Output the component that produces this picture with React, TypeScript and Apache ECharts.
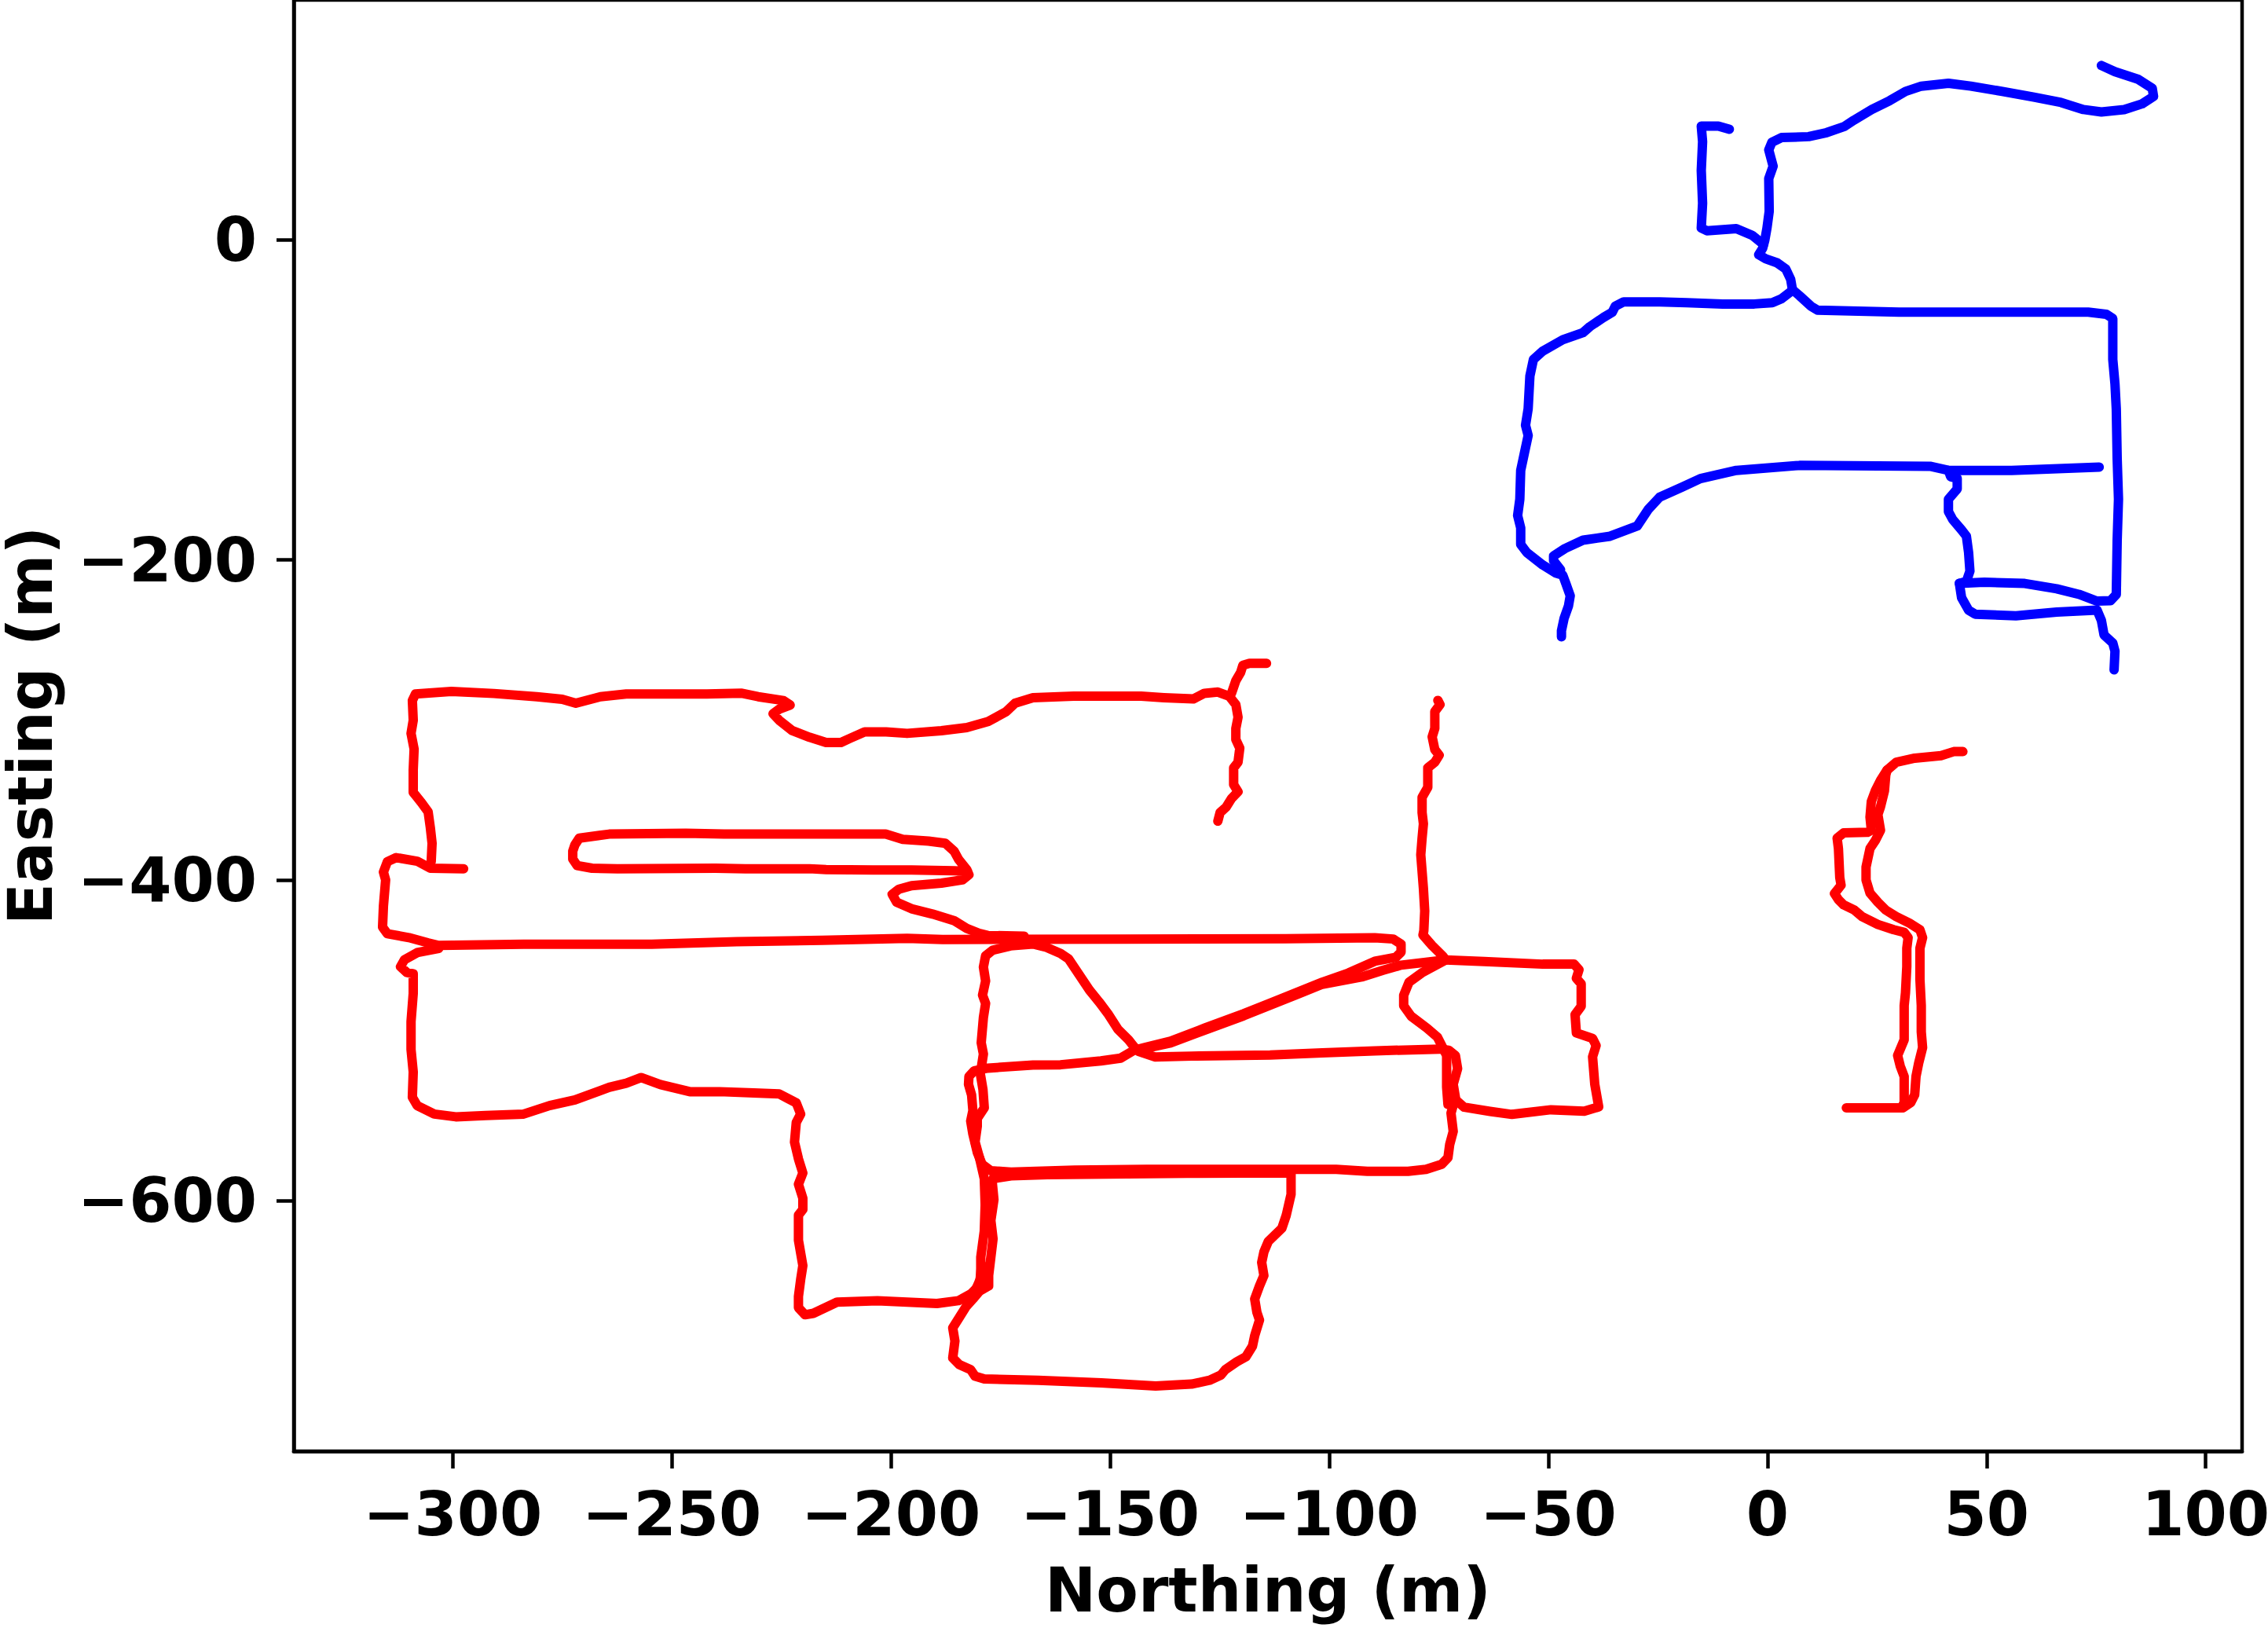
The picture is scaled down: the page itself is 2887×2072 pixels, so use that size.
import React, { useEffect, useRef } from "react";
import * as echarts from "echarts";

const xTickValues = [-300, -250, -200, -150, -100, -50, 0, 50, 100];
const yTickValues = [-600, -400, -200, 0];
const xAxisTitle = "Northing (m)";
const yAxisTitle = "Easting (m)";

// ---- Blue trajectory (Northing, Easting) ----
const blueNorthHook = [[76.2,108.7],[79.3,104.8],[84.5,100.2],[87.8,94.5],[88.1,89.4],[85.5,84.8],[81.4,81.2],[76.2,79.7],[72.1,81.2],[67.0,85.6],[60.8,88.9],[53.6,92.5],[46.4,95.8],[41.3,97.6],[35.1,95.8],[31.5,92.5],[27.9,86.8],[23.8,81.2],[19.7,74.5],[17.6,70.7],[13.5,66.8],[9.4,64.3],[3.2,63.7],[1.0,60.7],[0.3,56.0],[1.3,45.8],[0.3,38.1],[0.4,17.6],[-0.1,7.3],[-0.6,-0.4],[-1.1,-5.5],[-2.0,-9.4],[-0.4,-12.0],[2.2,-14.5],[4.2,-18.4],[5.3,-24.8],[5.7,-31.2]];
const blueSpur = [[-8.7,68.9],[-11.2,70.9],[-15.1,70.9],[-14.8,61.2],[-15.1,43.2],[-14.8,22.7],[-15.1,7.3],[-13.8,5.5],[-7.1,6.8],[-3.5,2.7],[-0.9,-3.0]];
const blueWest = [[5.3,-32.5],[3.2,-36.9],[1.1,-39.4],[-3.0,-40.2],[-10.2,-40.2],[-18.4,-39.4],[-24.6,-38.9],[-32.8,-38.9],[-34.7,-41.5],[-35.4,-45.3],[-37.4,-48.6],[-40.5,-54.3],[-42.1,-58.1],[-46.7,-62.5],[-51.3,-69.7],[-53.4,-74.8],[-54.2,-85.1],[-54.6,-105.6],[-55.2,-115.9],[-54.6,-122.3],[-55.5,-133.8],[-56.3,-144.1],[-56.5,-162.1],[-57.0,-172.3],[-56.3,-180.0],[-56.3,-190.3],[-54.9,-195.4],[-51.3,-203.1],[-48.2,-208.3],[-46.7,-209.5],[-46.0,-214.7],[-45.0,-222.4],[-45.4,-228.8],[-46.4,-236.5],[-47.0,-244.2],[-47.0,-248.0]];
const blueMiddle = [[-47.2,-206.2],[-48.8,-200.5],[-48.8,-197.5],[-46.2,-192.9],[-42.1,-187.7],[-35.9,-185.2],[-29.7,-178.8],[-27.2,-168.5],[-24.6,-160.8],[-19.4,-154.4],[-15.3,-149.2],[-7.1,-144.1],[7.3,-141.0],[37.1,-141.5],[41.3,-144.1],[55.7,-144.1],[75.7,-142.0]];
const blueSouth = [[41.3,-144.1],[41.8,-148.0],[43.3,-149.2],[43.3,-155.7],[41.3,-162.1],[41.3,-169.8],[42.3,-174.9],[44.3,-181.3],[45.4,-185.2],[45.9,-195.4],[46.2,-207.0],[45.4,-213.4],[43.8,-214.7],[44.3,-223.6],[45.9,-231.4],[47.4,-233.9],[56.7,-234.9],[66.0,-232.6],[75.2,-231.3],[76.2,-237.8],[76.8,-246.8],[78.8,-251.9],[79.3,-257.0],[79.1,-268.6]];
const blueEastLoop = [[43.8,-214.7],[49.5,-213.9],[58.7,-214.7],[66.0,-218.0],[71.1,-221.5],[75.2,-225.7],[78.3,-225.4],[79.6,-221.6],[79.8,-187.7],[80.1,-162.1],[79.8,-136.7],[79.6,-105.9],[79.3,-90.2],[78.8,-74.8],[78.8,-49.2],[77.3,-46.6],[73.2,-45.3],[54.6,-45.3],[30.0,-45.3],[11.4,-44.0],[9.9,-41.5],[7.3,-35.0],[5.7,-31.2]];

// ---- Red trajectory (Northing, Easting) ----
const redNorthLoop = [[-304.9,-388.4],[-304.7,-376.9],[-305.1,-367.1],[-305.6,-357.3],[-307.1,-351.6],[-309.0,-345.1],[-309.0,-331.2],[-308.8,-318.1],[-309.5,-308.3],[-309.0,-300.1],[-309.2,-287.8],[-308.5,-283.7],[-300.3,-282.1],[-290.6,-283.4],[-280.8,-285.4],[-275.0,-287.0],[-271.9,-289.5],[-266.3,-285.4],[-260.4,-283.7],[-242.0,-283.7],[-234.2,-283.2],[-230.3,-285.4],[-224.5,-287.8],[-223.0,-290.6],[-225.5,-293.2],[-226.9,-296.0],[-225.5,-300.1],[-222.5,-306.6],[-218.6,-310.7],[-214.8,-314.0],[-211.4,-314.0],[-209.4,-311.5],[-206.0,-307.4],[-201.1,-307.4],[-196.3,-308.3],[-188.5,-306.6],[-182.7,-304.7],[-177.8,-300.9],[-173.7,-294.7],[-171.7,-289.5],[-167.6,-286.0],[-158.3,-285.1],[-142.9,-285.1],[-137.7,-286.0],[-131.0,-286.8],[-128.5,-283.3],[-125.4,-282.5],[-122.8,-285.1],[-121.3,-290.3],[-120.8,-298.2],[-121.3,-305.2],[-121.3,-312.2],[-120.4,-317.5],[-120.8,-326.3],[-121.8,-329.8],[-121.8,-340.3],[-120.8,-344.7],[-122.3,-349.0],[-123.5,-354.3],[-124.9,-357.8],[-125.4,-363.1]];
const redSpur = [[-122.3,-283.3],[-121.3,-275.4],[-120.2,-270.2],[-119.7,-265.8],[-118.2,-264.6],[-114.3,-264.6]];
const redInnerLoop = [[-182.5,-394.5],[-185.6,-394.1],[-195.3,-393.6],[-204.1,-393.6],[-214.8,-393.3],[-218.6,-392.8],[-233.2,-392.8],[-240.0,-392.5],[-262.4,-392.8],[-268.2,-392.5],[-271.6,-390.8],[-272.6,-386.8],[-272.6,-381.8],[-272.1,-377.8],[-271.1,-373.7],[-264.3,-371.2],[-246.8,-370.7],[-238.1,-371.2],[-201.2,-371.2],[-197.3,-374.5],[-191.4,-375.6],[-187.6,-376.9],[-185.6,-381.8],[-184.6,-386.8],[-182.7,-393.3],[-182.2,-396.6],[-183.7,-399.8],[-188.5,-401.8],[-195.3,-403.4],[-198.2,-405.6],[-199.7,-408.8],[-198.7,-413.7],[-195.3,-417.8],[-190.5,-421.1],[-185.6,-425.2],[-182.7,-430.1],[-179.9,-433.1],[-177.9,-434.5],[-169.6,-434.9]];
const redMainRoute = [[-297.5,-392.8],[-305.1,-392.5],[-308.1,-388.1],[-312.9,-385.9],[-314.9,-388.4],[-315.8,-394.9],[-315.3,-399.8],[-315.8,-416.2],[-316.0,-429.3],[-314.9,-433.4],[-310.0,-435.8],[-305.6,-439.1],[-303.2,-440.7],[-283.8,-439.9],[-254.6,-439.9],[-235.2,-438.3],[-215.7,-437.5],[-196.3,-436.3],[-188.2,-437.0],[-147.0,-436.8],[-110.0,-436.5],[-89.6,-435.9],[-85.4,-436.7],[-83.6,-439.9],[-83.6,-444.9],[-84.8,-448.1],[-89.6,-450.6],[-95.6,-457.9],[-101.6,-463.7],[-110.5,-473.5],[-119.5,-483.3],[-128.4,-492.3],[-136.2,-500.5],[-142.2,-504.5],[-144.6,-506.2],[-147.6,-511.1],[-152.1,-512.8],[-161.3,-515.2],[-167.6,-515.4],[-177.9,-517.3],[-181.0,-519.0],[-182.2,-522.5],[-182.3,-527.4],[-181.6,-534.0],[-181.3,-543.8],[-181.8,-550.3],[-181.3,-558.5],[-180.3,-569.9],[-179.2,-577.3],[-177.2,-581.4],[-172.6,-582.2],[-158.1,-581.0],[-141.7,-580.5],[-121.1,-580.5],[-107.7,-580.5],[-98.4,-580.5],[-91.3,-581.7],[-82.0,-581.7],[-77.9,-580.5],[-74.3,-577.3],[-72.9,-573.2],[-72.5,-565.0],[-71.7,-556.8],[-72.2,-545.4],[-71.2,-535.6],[-71.7,-527.4],[-70.7,-517.6],[-71.2,-509.4],[-72.7,-506.1],[-74.7,-505.4]];
const redRectTop = [[-74.7,-505.4],[-89.6,-506.5],[-101.6,-507.8],[-113.5,-509.1],[-131.4,-509.8],[-139.8,-510.3],[-143.4,-507.0],[-144.6,-503.7],[-145.8,-499.6],[-148.2,-493.1],[-150.5,-483.3],[-152.3,-476.7],[-154.7,-468.6],[-157.1,-458.8],[-159.5,-449.0],[-161.3,-445.7],[-164.5,-441.9],[-167.6,-439.8],[-172.7,-441.0],[-176.8,-443.7],[-178.4,-447.2],[-178.9,-454.2],[-178.4,-462.9],[-179.1,-471.7],[-178.4,-476.9],[-178.9,-485.7],[-179.4,-501.5],[-178.9,-508.5],[-179.4,-517.3],[-179.6,-520.9],[-179.0,-530.7],[-178.7,-542.1],[-180.3,-548.7],[-180.3,-553.6],[-180.8,-563.4],[-179.8,-573.2],[-178.7,-586.3],[-178.5,-602.6],[-178.7,-619.0],[-179.5,-635.3],[-179.5,-648.4],[-180.8,-656.6]];
const redEastVertical = [[-75.2,-287.7],[-74.7,-290.3],[-75.9,-294.7],[-75.9,-305.2],[-76.5,-310.5],[-75.9,-318.4],[-74.9,-321.9],[-75.9,-326.3],[-77.5,-329.8],[-77.5,-342.0],[-78.8,-348.2],[-78.8,-357.8],[-78.5,-364.8],[-78.8,-373.6],[-79.1,-384.1],[-78.5,-405.1],[-78.2,-419.1],[-78.4,-431.4],[-78.6,-434.2],[-76.5,-440.8],[-74.1,-447.3],[-73.4,-449.8],[-78.9,-457.9],[-81.8,-463.7],[-83.0,-471.8],[-83.0,-478.4],[-81.3,-484.9],[-77.7,-492.3],[-75.3,-498.0],[-74.1,-504.5],[-73.2,-509.4],[-73.2,-529.1],[-72.9,-540.0]];
const redEastRect = [[-73.4,-449.8],[-64.6,-450.7],[-51.3,-452.4],[-44.1,-452.4],[-43.0,-455.9],[-43.6,-461.2],[-42.5,-464.7],[-42.5,-478.7],[-43.9,-483.9],[-43.6,-495.3],[-39.9,-498.8],[-39.1,-503.2],[-39.9,-510.2],[-39.4,-527.4],[-38.5,-541.5],[-41.8,-544.2],[-49.4,-543.3],[-58.3,-546.2],[-63.3,-544.3],[-69.2,-541.7],[-71.5,-536.2]];
const redDiagonal = [[-73.4,-449.8],[-83.6,-453.0],[-87.8,-456.3],[-92.6,-460.4],[-101.6,-465.0],[-110.5,-474.8],[-119.5,-484.6],[-128.4,-493.6],[-136.2,-501.6],[-142.2,-505.2]];
const redLowerLeft = [[-303.2,-442.6],[-308.1,-445.2],[-311.0,-449.6],[-311.9,-454.0],[-310.5,-457.5],[-309.0,-458.4],[-309.0,-470.6],[-309.5,-488.2],[-309.5,-505.7],[-309.0,-519.7],[-309.2,-535.5],[-308.1,-540.7],[-304.2,-546.0],[-299.3,-547.7],[-292.5,-546.9],[-283.8,-546.0],[-277.9,-540.7],[-272.1,-537.2],[-264.3,-529.3],[-260.4,-526.7],[-257.0,-523.2],[-252.6,-527.6],[-245.9,-532.0],[-239.1,-532.0],[-231.3,-532.8],[-225.5,-533.4],[-223.5,-536.3],[-221.6,-539.0],[-220.6,-546.0],[-221.6,-551.2],[-222.0,-563.5],[-221.1,-574.0],[-220.1,-582.8],[-221.1,-589.8],[-220.1,-598.5],[-220.1,-605.6],[-221.1,-609.1],[-221.1,-624.8],[-220.1,-640.6],[-220.6,-649.4],[-221.1,-659.9],[-221.1,-666.9],[-219.6,-671.3],[-217.7,-670.4],[-212.3,-663.4],[-203.1,-662.5],[-196.3,-663.4],[-189.5,-664.3],[-184.6,-662.5],[-181.7,-658.1],[-179.8,-652.9],[-179.3,-640.0]];
const redStemLoop = [[-176.7,-586.3],[-172.6,-584.6],[-164.3,-583.8],[-132.4,-583.0],[-109.8,-582.7],[-108.7,-583.0],[-108.7,-596.1],[-109.8,-609.2],[-110.8,-617.3],[-113.9,-625.5],[-114.9,-632.1],[-115.4,-638.6],[-114.9,-646.8],[-115.9,-653.3],[-117.0,-661.5],[-116.5,-669.7],[-115.9,-674.6],[-117.0,-684.4],[-117.5,-690.9],[-119.0,-697.5],[-121.1,-700.7],[-123.7,-705.6],[-124.7,-708.9],[-127.3,-712.2],[-131.4,-714.6],[-139.6,-715.8],[-152.0,-713.8],[-166.4,-712.2],[-178.7,-711.4],[-180.8,-709.7],[-181.8,-705.6],[-184.4,-702.4],[-185.9,-698.3],[-185.4,-687.7],[-185.9,-679.5],[-184.4,-673.0],[-182.9,-666.4],[-181.3,-661.5],[-179.8,-656.6],[-177.7,-653.3],[-177.7,-646.8],[-177.2,-635.3],[-176.7,-623.9],[-177.2,-612.4],[-176.5,-599.4],[-176.9,-587.9],[-176.7,-586.3]];
const redEastOuter = [[44.6,-319.7],[42.5,-319.7],[39.6,-322.2],[33.6,-323.8],[29.4,-326.3],[27.3,-331.2],[25.8,-337.7],[24.6,-344.2],[23.7,-350.8],[23.4,-360.6],[23.7,-368.8],[22.8,-370.1],[17.4,-370.4],[15.9,-373.7],[16.2,-380.2],[16.5,-398.2],[16.8,-403.1],[15.3,-408.3],[16.2,-412.1],[17.4,-415.4],[19.8,-418.6],[21.6,-422.7],[25.2,-427.6],[28.8,-430.9],[31.2,-432.5],[32.1,-435.8],[31.8,-442.4],[31.8,-453.8],[31.5,-470.2],[31.2,-478.3],[31.2,-499.6],[29.7,-509.4],[30.3,-516.0],[31.2,-522.5],[31.2,-538.8],[30.6,-542.1],[23.4,-542.1],[18.0,-542.1]];
const redEastInner = [[27.3,-331.2],[27.0,-334.4],[26.7,-344.2],[25.8,-354.1],[25.2,-359.0],[25.8,-368.8],[24.6,-375.3],[23.4,-380.2],[22.5,-391.7],[22.5,-399.8],[23.4,-408.0],[25.2,-413.7],[27.0,-418.6],[29.4,-422.7],[32.4,-426.8],[34.8,-430.9],[35.4,-435.8],[34.8,-442.4],[34.8,-462.0],[35.1,-478.3],[35.1,-494.7],[35.4,-504.5],[34.5,-514.3],[33.9,-522.5],[33.6,-533.9],[32.7,-538.8],[30.9,-542.1]];

const blueTracks = [blueNorthHook, blueSpur, blueWest, blueMiddle, blueSouth, blueEastLoop];
const redTracks = [redNorthLoop, redSpur, redInnerLoop, redMainRoute, redRectTop, redEastVertical, redEastRect, redDiagonal, redLowerLeft, redStemLoop, redEastOuter, redEastInner];

const FONT = "DejaVu Sans";

export default function App() {
  const ref = useRef<HTMLDivElement>(null);
  useEffect(() => {
    const chart = echarts.init(ref.current as HTMLDivElement, null, { renderer: "svg" });
    const fmt = (v: number) => (v < 0 ? "\u2212" + Math.abs(v) : String(v));
    const mk = (data: number[][], color: string) => ({
      type: "line",
      data,
      symbol: "none",
      showSymbol: false,
      silent: true,
      clip: true,
      lineStyle: { color, width: 12, cap: "round", join: "round" },
    });
    const labelStyle = { fontSize: 78, fontWeight: "bold", fontFamily: FONT, color: "#000" };
    chart.setOption({
      animation: false,
      backgroundColor: "#ffffff",
      grid: {
        left: 374, right: 33, top: 0, bottom: 225,
        containLabel: false, outerBoundsMode: "none",
        show: true, borderColor: "#000", borderWidth: 4.5,
      },
      xAxis: {
        type: "value",
        min: -336.25,
        max: 108.3,
        splitLine: { show: false },
        axisLine: { show: true, onZero: false, lineStyle: { color: "#000", width: 4.5 } },
        axisTick: { show: true, customValues: xTickValues, length: 22, lineStyle: { color: "#000", width: 4.5 } },
        axisLabel: { customValues: xTickValues, formatter: fmt, margin: 41, ...labelStyle },
        name: xAxisTitle,
        nameLocation: "middle",
        nameGap: 138,
        nameTextStyle: { ...labelStyle },
      },
      yAxis: {
        type: "value",
        min: -756.5,
        max: 149.6,
        splitLine: { show: false },
        axisLine: { show: true, onZero: false, lineStyle: { color: "#000", width: 4.5 } },
        axisTick: { show: true, customValues: yTickValues, length: 22, lineStyle: { color: "#000", width: 4.5 } },
        axisLabel: { customValues: yTickValues, formatter: fmt, margin: 47, ...labelStyle },
        name: yAxisTitle,
        nameLocation: "middle",
        nameGap: 296,
        nameTextStyle: { ...labelStyle },
      },
      series: [
        ...redTracks.map((d) => mk(d, "#ff0000")),
        ...blueTracks.map((d) => mk(d, "#0000ff")),
      ],
    });
    return () => chart.dispose();
  }, []);
  return <div ref={ref} style={{ position: "absolute", left: 0, top: 0, width: 2887, height: 2072 }} />;
}
